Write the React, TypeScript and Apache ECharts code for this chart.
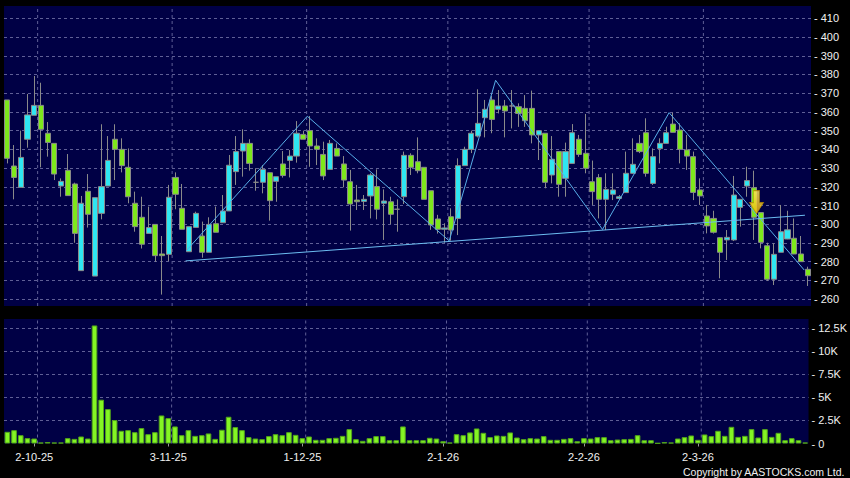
import React, { useEffect, useRef } from 'react';
import * as echarts from 'echarts';

const dates = [
  '25-9-25', '26-9-25', '29-9-25', '30-9-25',
  '2-10-25', '3-10-25', '6-10-25', '8-10-25', '9-10-25', '10-10-25', '13-10-25', '14-10-25', '15-10-25', '16-10-25', '17-10-25', '20-10-25', '21-10-25', '22-10-25', '23-10-25', '24-10-25', '27-10-25', '28-10-25', '30-10-25', '31-10-25',
  '3-11-25', '4-11-25', '5-11-25', '6-11-25', '7-11-25', '10-11-25', '11-11-25', '12-11-25', '13-11-25', '14-11-25', '17-11-25', '18-11-25', '19-11-25', '20-11-25', '21-11-25', '24-11-25', '25-11-25', '26-11-25', '27-11-25', '28-11-25',
  '1-12-25', '2-12-25', '3-12-25', '4-12-25', '5-12-25', '8-12-25', '9-12-25', '10-12-25', '11-12-25', '12-12-25', '15-12-25', '16-12-25', '17-12-25', '18-12-25', '19-12-25', '22-12-25', '23-12-25', '24-12-25', '29-12-25', '30-12-25', '31-12-25',
  '2-1-26', '5-1-26', '6-1-26', '7-1-26', '8-1-26', '9-1-26', '12-1-26', '13-1-26', '14-1-26', '15-1-26', '16-1-26', '19-1-26', '20-1-26', '21-1-26', '22-1-26', '23-1-26', '26-1-26', '27-1-26', '28-1-26', '29-1-26', '30-1-26',
  '2-2-26', '3-2-26', '4-2-26', '5-2-26', '6-2-26', '9-2-26', '10-2-26', '11-2-26', '12-2-26', '13-2-26', '16-2-26', '20-2-26', '23-2-26', '24-2-26', '25-2-26', '26-2-26', '27-2-26',
  '2-3-26', '3-3-26', '4-3-26', '5-3-26', '6-3-26', '9-3-26', '10-3-26', '11-3-26', '12-3-26', '13-3-26', '16-3-26', '17-3-26', '18-3-26', '19-3-26', '20-3-26', '23-3-26', '24-3-26',
];

const labelDates = ['2-10-25', '3-11-25', '1-12-25', '2-1-26', '2-2-26', '2-3-26'];

const opens = [
  366.4, 331.1, 319.7, 345.4, 358.2, 363.5, 348.6, 343.2, 320.4, 328.8,
  321.5, 275.2, 317.6, 272.3, 305.8, 320.4, 345.4, 340.0, 330.4, 311.2,
  303.7, 295.1, 299.9, 284.1, 283.9, 325.0, 308.5, 285.3, 298.3, 293.7,
  285.0, 300.3, 300.8, 307.1, 328.1, 339.1, 343.2, 322.4, 322.4, 327.5,
  322.9, 332.2, 334.1, 336.4, 348.0, 350.0, 341.8, 337.3, 329.3, 340.5,
  332.2, 322.7, 312.9, 312.2, 315.1, 320.1, 311.2, 312.0, 308.0, 314.7,
  336.8, 333.4, 330.4, 317.9, 302.8, 297.3, 304.0, 303.1, 331.3, 340.0,
  347.1, 356.9, 366.4, 361.4, 363.2, 363.2, 362.8, 361.9, 361.9, 347.7,
  348.6, 326.3, 338.8, 324.5, 332.5, 345.4, 337.9, 322.7, 324.9, 313.3,
  316.0, 313.8, 316.9, 327.2, 343.2, 348.9, 321.8, 340.4, 343.2, 353.5,
  350.3, 339.7, 336.1, 318.3, 304.4, 303.1, 292.8, 291.6, 291.6, 309.0,
  320.4, 319.5, 306.2, 288.5, 270.6, 285.0, 292.1, 292.5, 284.1, 275.9,
];
const closes = [
  335.2, 325.0, 335.7, 358.4, 363.5, 350.7, 343.7, 326.8, 322.9, 315.3,
  295.1, 311.2, 305.3, 314.2, 320.1, 334.1, 340.0, 331.3, 314.7, 298.7,
  289.3, 298.2, 283.2, 283.2, 314.4, 316.0, 297.3, 298.7, 305.8, 285.0,
  299.9, 295.7, 307.1, 331.5, 338.8, 343.2, 332.5, 322.4, 329.3, 312.6,
  325.4, 326.0, 336.4, 348.6, 345.4, 341.8, 340.0, 325.8, 343.2, 336.4,
  323.6, 310.8, 312.0, 313.3, 326.3, 308.0, 312.4, 305.3, 308.0, 336.8,
  330.4, 328.6, 313.3, 299.6, 297.3, 298.0, 296.9, 331.3, 340.0, 348.6,
  353.9, 361.4, 356.0, 363.2, 360.5, 363.2, 359.2, 355.3, 347.7, 350.0,
  322.4, 334.7, 321.3, 338.8, 348.9, 337.3, 329.9, 317.4, 313.3, 318.6,
  318.3, 314.7, 327.2, 332.0, 338.8, 327.2, 336.1, 343.2, 348.9, 349.1,
  340.0, 336.4, 317.0, 315.1, 299.1, 295.7, 285.0, 293.0, 315.6, 313.3,
  323.3, 303.7, 290.3, 270.6, 283.9, 296.0, 297.0, 284.1, 280.0, 272.5,
];
const lows = [
  332.5, 313.3, 319.7, 340.9, 358.2, 330.4, 336.1, 323.6, 314.7, 315.3,
  290.1, 275.2, 298.2, 272.3, 302.6, 320.4, 323.6, 327.7, 311.2, 296.0,
  287.0, 295.1, 280.0, 262.4, 280.3, 308.0, 297.3, 285.3, 298.3, 282.1,
  285.0, 295.7, 300.8, 307.1, 321.0, 325.4, 328.6, 317.9, 316.5, 301.9,
  312.0, 324.9, 325.0, 332.9, 345.4, 330.7, 331.6, 323.6, 329.3, 336.4,
  319.7, 296.6, 307.6, 307.6, 303.1, 302.6, 291.6, 300.1, 296.0, 310.8,
  326.3, 327.2, 313.3, 297.0, 295.0, 290.1, 291.2, 294.2, 331.3, 338.0,
  346.4, 346.4, 348.6, 359.2, 346.4, 351.2, 352.0, 352.0, 343.2, 334.3,
  319.2, 321.8, 314.7, 314.7, 332.5, 336.0, 327.2, 310.3, 303.1, 296.9,
  312.9, 313.0, 316.9, 327.0, 338.0, 325.4, 321.0, 332.5, 343.0, 349.0,
  332.5, 329.0, 312.9, 310.3, 295.1, 295.0, 271.1, 280.9, 291.0, 298.7,
  314.7, 291.6, 287.1, 269.7, 267.5, 285.0, 292.0, 284.0, 280.0, 267.0,
];
const highs = [
  366.4, 342.3, 350.0, 369.6, 379.2, 375.6, 354.6, 343.2, 324.5, 337.5,
  322.2, 315.1, 326.8, 314.2, 353.4, 347.1, 353.4, 345.9, 340.5, 317.4,
  314.7, 309.4, 299.9, 293.7, 321.0, 327.7, 321.5, 298.7, 306.7, 301.4,
  303.7, 309.4, 315.6, 337.0, 347.1, 350.7, 345.4, 329.9, 331.6, 327.5,
  325.4, 339.1, 339.6, 355.1, 350.0, 357.8, 345.9, 344.1, 345.0, 343.2,
  336.4, 329.0, 321.0, 315.6, 327.2, 329.3, 318.6, 314.7, 313.3, 338.8,
  337.9, 346.4, 330.4, 317.9, 305.0, 300.5, 308.5, 335.2, 341.4, 350.0,
  372.1, 366.4, 368.5, 371.7, 366.4, 371.7, 364.6, 369.0, 371.4, 350.0,
  348.6, 347.1, 338.8, 343.6, 353.5, 347.7, 358.9, 334.0, 326.8, 327.2,
  327.2, 315.6, 338.8, 345.9, 347.7, 356.6, 340.5, 345.9, 352.1, 359.6,
  353.9, 347.7, 338.8, 324.5, 310.3, 307.2, 293.0, 296.9, 325.8, 313.3,
  330.7, 328.6, 306.2, 290.1, 289.8, 310.3, 307.2, 303.1, 293.7, 277.3,
];
const volumes = [
  1270, 1450, 900, 580, 540, 100, 150, 100, 100, 580,
  500, 760, 540, 12800, 4750, 3730, 2540, 1380, 1450, 1230,
  1670, 1010, 1230, 3040, 2750, 1850, 900, 1450, 830, 900,
  1090, 500, 1490, 2900, 1780, 1450, 690, 540, 470, 800,
  1010, 900, 1230, 940, 580, 760, 400, 400, 580, 620,
  830, 1560, 470, 290, 580, 800, 800, 360, 360, 1850,
  360, 360, 360, 620, 540, 250, 100, 1010, 900, 1200,
  1630, 1160, 690, 870, 830, 1200, 650, 470, 580, 540,
  800, 400, 400, 500, 580, 250, 580, 540, 690, 690,
  360, 430, 470, 500, 900, 360, 360, 40, 150, 100,
  540, 690, 870, 400, 980, 800, 1380, 830, 1810, 720,
  830, 1560, 650, 1560, 720, 1160, 360, 580, 360, 100,
];

// pattern lines (x in category index units)
const zigzagX = [26.6, 44.6, 65.7, 72.6, 88.5, 98.4, 118.5];
const zigzagY = [285.8, 357.7, 291.1, 376.9, 297.2, 359.6, 275.5];
const necklineX = [26.5, 118.6];
const necklineY = [280.4, 304.8];
const arrowX = [111.4];
const arrowY = [311.8];

// axis ranges
const PRICE_MIN = 256.3;
const PRICE_MAX = 416.6;
const VOL_MAX = 13500;

const NAVY = '#000045';
const GRID_LINE = '#5f5f96';
const TEXT = '#f0f0f0';
const FONT = '"Liberation Sans", Arial, sans-serif';

export default function App() {
  const ref = useRef<HTMLDivElement>(null);
  useEffect(() => {
    document.body.style.margin = '0';
    document.body.style.background = '#000';
    const chart = echarts.init(ref.current!, null, { renderer: 'svg' });
    const labelIdx = labelDates.map((d) => dates.indexOf(d));
    const labelInterval = (i: number) => labelIdx.includes(i);
    const candleData = dates.map((_, i) => [opens[i], closes[i], lows[i], highs[i]]);
    const splitStyle = { color: GRID_LINE, type: [3, 3], width: 1 };
    const n = dates.length;
    // vertical grid segments on the boundary right after each labelled day
    const vSegments = (lo: number, hi: number) =>
      labelIdx.flatMap((i) => [[i + 0.5, lo], [i + 0.5, hi], [i + 0.5, '-']]);
    const hiddenValueX = (gridIndex: number) => ({
      type: 'value', gridIndex, min: -0.5, max: n - 0.5, show: false,
      splitLine: { show: false },
    });
    const gridSeries = (xi: number, yi: number, lo: number, hi: number) => ({
      type: 'line', xAxisIndex: xi, yAxisIndex: yi, symbol: 'none', silent: true, z: 1,
      connectNulls: false, data: vSegments(lo, hi),
      lineStyle: splitStyle, emphasis: { disabled: true },
    });

    const option: any = {
      animation: false,
      backgroundColor: '#000000',
      grid: [
        { left: 4, right: 39, top: 6, height: 300, show: true, backgroundColor: NAVY, borderWidth: 0 },
        { left: 4, right: 39, top: 319, height: 124.5, show: true, backgroundColor: NAVY, borderWidth: 0 },
      ],
      xAxis: [
        {
          type: 'category', gridIndex: 0, data: dates, boundaryGap: true,
          axisLine: { show: false }, axisTick: { show: false }, axisLabel: { show: false },
          splitLine: { show: false },
        },
        {
          type: 'category', gridIndex: 1, data: dates, boundaryGap: true,
          axisLine: { show: false },
          axisTick: { show: true, interval: labelInterval, alignWithLabel: true, length: 3, lineStyle: { color: '#9a9a9a' } },
          axisLabel: {
            show: true, interval: labelInterval, color: TEXT, fontSize: 11, fontFamily: FONT,
            margin: 8,
          },
          splitLine: { show: false },
        },
        hiddenValueX(0),
        hiddenValueX(1),
      ],
      yAxis: [
        {
          type: 'value', gridIndex: 0, position: 'right', min: PRICE_MIN, max: PRICE_MAX,
          minInterval: 10, maxInterval: 10, splitNumber: 16, scale: true,
          axisLine: { show: false }, axisTick: { show: false },
          axisLabel: {
            formatter: (v: number) => '- ' + v, showMinLabel: false, showMaxLabel: false,
            margin: 3, color: TEXT, fontSize: 11, fontFamily: FONT,
          },
          splitLine: { show: true, showMinLine: false, showMaxLine: false, lineStyle: splitStyle },
        },
        {
          type: 'value', gridIndex: 1, position: 'right', min: 0, max: VOL_MAX, interval: 2500,
          axisLine: { show: false }, axisTick: { show: false },
          axisLabel: {
            formatter: (v: number) => '- ' + (v === 0 ? '0' : v / 1000 + 'K'),
            showMinLabel: true, showMaxLabel: false,
            margin: 3, color: TEXT, fontSize: 11, fontFamily: FONT,
          },
          splitLine: { show: true, showMinLine: false, showMaxLine: false, lineStyle: splitStyle },
        },
      ],
      series: [
        gridSeries(2, 0, PRICE_MIN, PRICE_MAX),
        gridSeries(3, 1, 0, VOL_MAX),
        {
          type: 'candlestick', xAxisIndex: 0, yAxisIndex: 0, data: candleData, z: 3,
          barWidth: 5.6,
          itemStyle: {
            color: '#2fe6f2', color0: '#7ee81c',
            borderColor: '#8a8a8a', borderColor0: '#8a8a8a', borderWidth: 1,
          },
        },
        {
          type: 'bar', xAxisIndex: 1, yAxisIndex: 1, data: volumes, barWidth: '84%', z: 3,
          itemStyle: { color: '#84f524', borderColor: '#52a41a', borderWidth: 1 },
        },
        {
          type: 'line', xAxisIndex: 2, yAxisIndex: 0, symbol: 'none', z: 5,
          data: zigzagX.map((x, i) => [x, zigzagY[i]]),
          lineStyle: { color: '#58aee8', width: 1 },
        },
        {
          type: 'line', xAxisIndex: 2, yAxisIndex: 0, symbol: 'none', z: 5,
          data: necklineX.map((x, i) => [x, necklineY[i]]),
          lineStyle: { color: '#6cbcf0', width: 1 },
        },
        {
          type: 'scatter', xAxisIndex: 2, yAxisIndex: 0, z: 6,
          data: arrowX.map((x, i) => [x, arrowY[i]]),
          symbol: 'path://M4,0 L10,0 L10,12 L14,12 L7,23 L0,12 L4,12 Z',
          symbolSize: [14, 23],
          itemStyle: {
            color: new echarts.graphic.LinearGradient(0, 0, 0, 1, [
              { offset: 0, color: '#ffe95a' },
              { offset: 1, color: '#f5b800' },
            ]),
            borderColor: '#b88a00', borderWidth: 0.8,
          },
        },
      ],
      graphic: [
        {
          type: 'text', right: 5, top: 466,
          style: { text: 'Copyright by AASTOCKS.com Ltd.', fill: TEXT, font: '10.5px ' + FONT },
        },
      ],
    };
    chart.setOption(option);
    return () => chart.dispose();
  }, []);
  return <div ref={ref} style={{ width: 850, height: 478, background: '#000' }} />;
}
